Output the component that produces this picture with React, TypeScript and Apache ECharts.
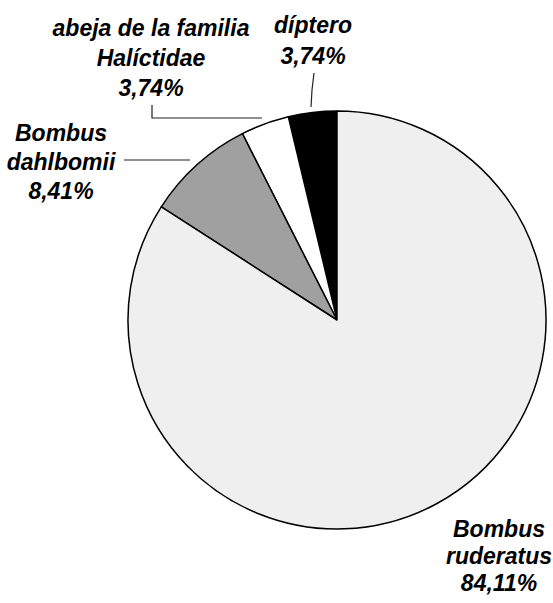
import React, { useEffect, useRef } from "react";
import * as echarts from "echarts";

// Visitor shares (%) for each insect group
const categories = [
  "díptero",
  "abeja de la familia\nHalíctidae",
  "Bombus\ndahlbomii",
  "Bombus\nruderatus",
];
const shares = [3.74, 3.74, 8.41, 84.11];
const sliceColors = ["#000000", "#ffffff", "#a0a0a0", "#efefef"];

// Where each label block sits and how its leader line runs
const labelSpots = [
  { x: 313, y: 40, lineHeight: 31, line: [[311, 107], [312, 90], [314, 73]] },
  { x: 151, y: 58, lineHeight: 30, line: [[262, 118], [152, 118], [152, 105]] },
  { x: 61, y: 162, lineHeight: 29, line: [[190, 160], [150, 160], [124, 160]] },
  { x: 499, y: 556, lineHeight: 27, line: null as number[][] | null },
];

const fmtPct = (v: number) => v.toFixed(2).replace(".", ",") + "%";

export default function App() {
  const ref = useRef<HTMLDivElement>(null);

  useEffect(() => {
    if (!ref.current) return;
    const chart = echarts.init(ref.current, null, { renderer: "svg" });
    chart.setOption({
      animation: false,
      backgroundColor: "#ffffff",
      series: [
        {
          type: "pie",
          center: [337, 320],
          radius: 209,
          startAngle: 90,
          clockwise: false,
          avoidLabelOverlap: false,
          itemStyle: { borderColor: "#000000", borderWidth: 1.5 },
          label: {
            show: true,
            position: "outside",
            color: "#000000",
            fontFamily: "Liberation Sans, Arial, sans-serif",
            fontSize: 23,
            fontWeight: "bold",
            fontStyle: "italic",
            align: "center",
            formatter: (p: any) => `${p.name}\n${fmtPct(p.value)}`,
          },
          labelLine: {
            show: true,
            lineStyle: { color: "#222222", width: 1.2 },
          },
          labelLayout: (p: any) => {
            const s = labelSpots[p.dataIndex];
            const out: any = {
              x: s.x,
              y: s.y,
              align: "center",
              verticalAlign: "middle",
            };
            if (s.line) out.labelLinePoints = s.line;
            return out;
          },
          data: categories.map((name, i) => ({
            name,
            value: shares[i],
            itemStyle: { color: sliceColors[i] },
            label: { lineHeight: labelSpots[i].lineHeight },
            labelLine: { show: labelSpots[i].line !== null },
          })),
        },
      ],
    });
    return () => chart.dispose();
  }, []);

  return (
    <div
      ref={ref}
      style={{ position: "absolute", left: 0, top: 0, width: 553, height: 603 }}
    />
  );
}
